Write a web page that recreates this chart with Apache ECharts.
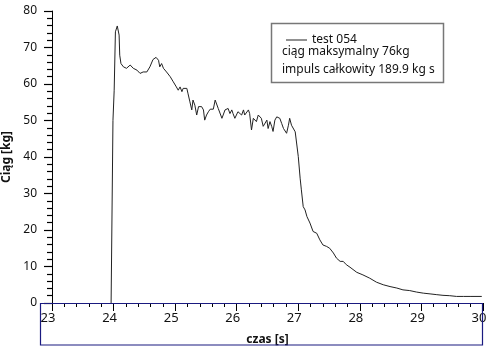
<!DOCTYPE html>
<html>
<head>
<meta charset="utf-8">
<script src="https://cdn.jsdelivr.net/npm/echarts@6/dist/echarts.min.js"></script>
<style>
  html, body { margin: 0; padding: 0; background: #fff; }
  #chart { width: 492px; height: 352px; }
</style>
</head>
<body>
<div id="chart"></div>
<script>
// czas [s]
var czas = [
  23.96, 23.99, 24.01, 24.03, 24.06, 24.09, 24.10, 24.12, 24.16, 24.21,
  24.27, 24.29, 24.32, 24.38, 24.43, 24.48, 24.54, 24.59, 24.64, 24.69,
  24.73, 24.75, 24.78, 24.81, 24.83, 24.86, 24.92, 24.94, 24.97, 25.00,
  25.02, 25.05, 25.08, 25.11, 25.13, 25.16, 25.19, 25.21, 25.24, 25.27,
  25.29, 25.32, 25.35, 25.38, 25.40, 25.43, 25.46, 25.48, 25.51, 25.54,
  25.57, 25.62, 25.65, 25.67, 25.70, 25.73, 25.76, 25.78, 25.81, 25.84,
  25.86, 25.89, 25.92, 25.94, 25.97, 26.00, 26.02, 26.05, 26.08, 26.11,
  26.13, 26.16, 26.19, 26.21, 26.24, 26.27, 26.30, 26.32, 26.35, 26.38,
  26.40, 26.43, 26.46, 26.49, 26.51, 26.54, 26.57, 26.59, 26.62, 26.65,
  26.67, 26.70, 26.73, 26.76, 26.78, 26.81, 26.84, 26.86, 26.89, 26.92,
  26.95, 26.97, 27.00, 27.03, 27.05, 27.08, 27.11, 27.14, 27.19, 27.22,
  27.24, 27.30, 27.35, 27.40, 27.46, 27.51, 27.57, 27.62, 27.68, 27.73,
  27.76, 27.78, 27.84, 27.95, 28.05, 28.16, 28.27, 28.38, 28.49, 28.60,
  28.70, 28.81, 28.92, 29.03, 29.14, 29.24, 29.35, 29.46, 29.57, 29.68,
  29.79, 29.98
];
// ciag [kg]
var ciag = [
  0, 50, 58.3, 74.3, 75.9, 73.4, 67.9, 65.6, 64.7, 64.3,
  65.2, 65.6, 64.3, 63.8, 62.9, 63.3, 63.3, 64.7, 66.7, 67.3,
  66.5, 64.7, 65.6, 64.3, 63.8, 63.3, 62.0, 62.4, 60.6, 61.1,
  59.2, 58.3, 59.2, 57.9, 58.8, 58.3, 58.8, 57.3, 55.1, 52.9,
  55.6, 54.2, 51.5, 53.8, 53.8, 53.8, 52.9, 50.1, 51.5, 52.4,
  53.1, 53.1, 55.6, 55.1, 53.3, 52.9, 50.6, 51.5, 52.9, 52.4,
  53.3, 51.9, 52.9, 51.9, 50.6, 51.0, 52.4, 51.9, 51.5, 52.9,
  51.5, 51.5, 52.9, 51.9, 47.4, 50.6, 50.6, 49.7, 51.5, 51.9,
  50.6, 48.4, 48.7, 50.1, 47.8, 49.7, 48.3, 47.0, 50.1, 51.0,
  51.5, 50.6, 49.2, 47.8, 48.3, 46.5, 48.7, 50.6, 48.7, 49.2,
  46.9, 46.5, 40.1, 34.2, 31.0, 26.4, 25.5, 23.7, 21.9, 21.9,
  19.6, 19.1, 17.3, 15.9, 15.5, 15.0, 13.7, 12.3, 11.4, 11.4,
  11.8, 10.5, 9.8, 8.4, 7.7, 6.8, 5.7, 5.0, 4.5, 4.1,
  3.6, 3.4, 3.0, 2.7, 2.5, 2.3, 2.1, 2.0, 1.8, 1.8,
  1.8, 1.8
];
var seriesName = 'test 054';
var infoLines = ['ciąg maksymalny 76kg', 'impuls całkowity 189.9 kg s'];

var FONT = 'Noto Sans';
var points = [];
for (var i = 0; i < czas.length; i++) {
    points.push([czas[i], ciag[i]]);
}

var tickStyle = {color: '#000', width: 1};
var yTickStyle = {color: '#000', width: 1.2};

var chart = echarts.init(document.getElementById('chart'), null, {renderer: 'canvas'});
chart.setOption({
    animation: false,
    backgroundColor: '#fff',
    textStyle: {fontFamily: FONT},
    grid: {left: 52, right: 9, top: 11, bottom: 49, outerBoundsMode: 'none', containLabel: false},
    legend: {
        left: 281, top: 29,
        itemWidth: 21, itemHeight: 1, itemGap: 0,
        textStyle: {fontFamily: FONT, fontSize: 12, color: '#111'},
        data: [{name: seriesName, icon: 'rect'}]
    },
    xAxis: {
        type: 'value', min: 23, max: 30, interval: 1,
        name: 'czas [s]', nameLocation: 'middle', nameGap: 31,
        nameTextStyle: {fontFamily: FONT, fontSize: 12, fontWeight: 'bold', color: '#111'},
        axisLine: {show: true, onZero: false, lineStyle: tickStyle},
        axisTick: {show: true, inside: false, length: 8, lineStyle: tickStyle},
        minorTick: {show: true, splitNumber: 5, length: 4, lineStyle: tickStyle},
        axisLabel: {fontFamily: FONT, fontSize: 13, color: '#111', margin: 9, padding: [0, 8, 0, 0]},
        splitLine: {show: false}
    },
    yAxis: {
        type: 'value', min: 0, max: 80, interval: 10,
        name: 'Ciąg [kg]', nameLocation: 'middle', nameGap: 31,
        nameTextStyle: {fontFamily: FONT, fontSize: 12, fontWeight: 'bold', color: '#111'},
        axisLine: {show: true, onZero: false, lineStyle: tickStyle},
        axisTick: {show: true, inside: false, length: 8, lineStyle: yTickStyle},
        minorTick: {show: true, splitNumber: 5, length: 5, lineStyle: yTickStyle},
        axisLabel: {fontFamily: FONT, fontSize: 12, color: '#111', margin: 15},
        splitLine: {show: false}
    },
    graphic: [
        {
            type: 'rect', z: 1, silent: true,
            shape: {x: 40.5, y: 303.5, width: 442, height: 41.5},
            style: {fill: 'none', stroke: '#1a1a80', lineWidth: 1.2}
        },
        {
            type: 'rect', z: 1, silent: true,
            shape: {x: 271.5, y: 23.5, width: 172, height: 59},
            style: {fill: '#fff', stroke: '#777', lineWidth: 1.5}
        },
        {
            type: 'text', z: 5, silent: true, left: 282, top: 46,
            style: {text: infoLines[0], font: '12px "Noto Sans"', fill: '#111'}
        },
        {
            type: 'text', z: 5, silent: true, left: 282, top: 64,
            style: {text: infoLines[1], font: '12px "Noto Sans"', fill: '#111'}
        }
    ],
    series: [{
        name: seriesName,
        type: 'line',
        data: points,
        symbol: 'none',
        showSymbol: false,
        z: 3,
        lineStyle: {color: '#222', width: 1},
        itemStyle: {color: '#222'}
    }]
});
</script>
</body>
</html>
